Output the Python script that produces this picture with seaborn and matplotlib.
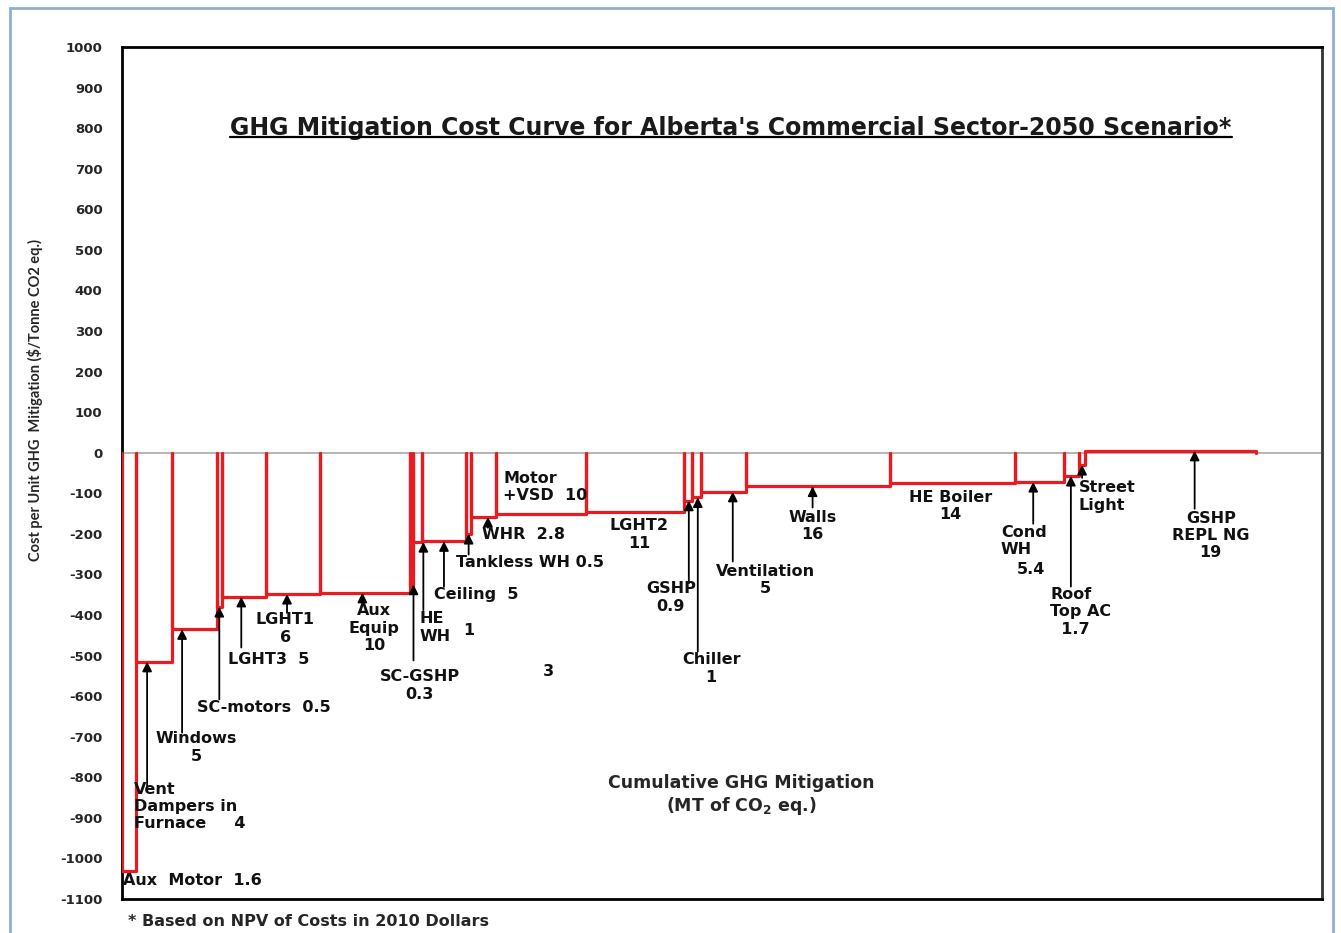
import numpy as np
import pandas as pd
import matplotlib
matplotlib.use("Agg")
import matplotlib.pyplot as plt
from matplotlib.lines import Line2D
from matplotlib.patches import Rectangle
import seaborn as sns

# ---------------- data ----------------
measures = ["Aux Motor", "Vent Dampers in Furnace", "Windows", "SC-motors", "LGHT3",
            "LGHT1", "Aux Equip", "SC-GSHP", "HE WH", "Ceiling", "Tankless WH", "WHR",
            "Motor +VSD", "LGHT2", "GSHP", "Chiller", "Ventilation", "Walls",
            "HE Boiler", "Cond WH", "Roof Top AC", "Street Light", "GSHP REPL NG"]
mitigation = [1.6, 4, 5, 0.5, 5, 6, 10, 0.3, 1, 5, 0.5, 2.8, 10, 11, 0.9, 1, 5, 16,
              14, 5.4, 1.7, 0.7, 19]
cost = [-1030, -515, -435, -380, -355, -348, -345, -325, -220, -218, -200, -158,
        -150, -145, -118, -110, -96, -83, -75, -72, -57, -30, 5]

yticks = list(range(-1100, 1001, 100))

# label annotations: (bar index, text, text x, text y, ha, arrow x, arrow tail y)
labels = [
    (0, "Aux  Motor  1.6", 0.1, -1054, "left", None, None),
    (1, "Vent\nDampers in\nFurnace     4", 1.3, -872, "left", 2.8, -828),
    (2, "Windows\n5", 8.3, -727, "center", 6.7, -690),
    (3, "SC-motors  0.5", 15.8, -628, "center", 10.85, -608),
    (4, "LGHT3  5", 16.4, -510, "center", 13.3, -480),
    (5, "LGHT1\n6", 18.2, -433, "center", 18.4, -395),
    (6, "Aux\nEquip\n10", 28.1, -433, "center", 26.8, -368),
    (7, "SC-GSHP\n0.3", 33.2, -574, "center", 32.5, -512),
    (8, "HE\nWH", 33.2, -431, "left", 33.6, -388),
    (9, "Ceiling  5", 39.5, -350, "center", 35.9, -330),
    (10, "Tankless WH 0.5", 45.5, -271, "center", 38.65, -251),
    (11, "WHR  2.8", 44.8, -202, "center", 40.8, -185),
    (12, "Motor\n+VSD  10", 42.5, -84, "left", None, None),
    (13, "LGHT2\n11", 57.7, -202, "center", None, None),
    (14, "GSHP\n0.9", 61.2, -357, "center", 63.2, -322),
    (15, "Chiller\n1", 65.7, -532, "center", 64.2, -490),
    (16, "Ventilation\n5", 71.7, -313, "center", 68.1, -268),
    (17, "Walls\n16", 77.0, -180, "center", 77.0, -135),
    (18, "HE Boiler\n14", 92.4, -131, "center", None, None),
    (19, "Cond\nWH", 98.0, -217, "left", 101.6, -175),
    (20, "Roof\nTop AC\n  1.7", 103.5, -392, "left", 105.8, -330),
    (21, "Street\nLight", 106.7, -108, "left", 107.05, -62),
    (22, "GSHP\nREPL NG\n19", 121.4, -204, "center", 119.6, -138),
]
extra_texts = [("1", 38.7, -438), ("3", 47.5, -539), ("5.4", 101.4, -288)]

title = "GHG Mitigation Cost Curve for Alberta's Commercial Sector-2050 Scenario*"
xlabel_txt = "Cumulative GHG Mitigation\n(MT of CO$_\\mathregular{2}$ eq.)"
ylabel_txt = "Cost per Unit GHG  Mitigation (\\$/Tonne CO2 eq.)"
footnote = "* Based on NPV of Costs in 2010 Dollars"

# ---------------- style ----------------
sns.set_theme(style="white")
FONT = ["DejaVu Sans"]
plt.rcParams["font.family"] = FONT
plt.rcParams["font.weight"] = "bold"
plt.rcParams["mathtext.fontset"] = "custom"
plt.rcParams["mathtext.rm"] = "DejaVu Sans:bold"
plt.rcParams["mathtext.it"] = "DejaVu Sans:bold"
plt.rcParams["mathtext.bf"] = "DejaVu Sans:bold"

RED = "#ea1b20"

fig = plt.figure(figsize=(13.41, 9.33), dpi=100)
ax = fig.add_axes([122 / 1341, 34 / 933, 1200 / 1341, 852 / 933])

# build outline segments for every step (left edge, bottom, right edge)
starts = np.concatenate([[0], np.cumsum(mitigation)[:-1]])
rows = []
for i, (s, w, c) in enumerate(zip(starts, mitigation, cost)):
    for x, y in [(s, 0), (s, c), (s + w, c), (s + w, 0)]:
        rows.append({"x": x, "y": y, "seg": i})
df = pd.DataFrame(rows)

ax.axhline(0, color="#a8a8a8", lw=1.2, zorder=1)
sns.lineplot(data=df, x="x", y="y", units="seg", estimator=None, sort=False,
             color=RED, lw=2.3, ax=ax, legend=False, zorder=3)

ax.set_xlim(0, 133.8)
ax.set_ylim(-1100, 1000)
ax.set_yticks(yticks)
ax.set_yticklabels([str(t) for t in yticks], fontsize=9.5, fontweight="bold")
ax.set_xticks([])
ax.set_xlabel("")
ax.set_ylabel("")
ax.tick_params(axis="y", direction="out", length=6, width=1.5, color="black", pad=8)
for side, sp in ax.spines.items():
    sp.set_color("black" if side != "right" else "#333333")
    sp.set_linewidth(2)

TXT = dict(fontsize=11.5, fontweight="bold", color="#111111", linespacing=1.2)
for idx, text, tx, ty, ha, axx, tail in labels:
    ax.text(tx, ty, text, ha=ha, va="center",
            multialignment=("left" if ha == "left" else "center"), zorder=5, **TXT)
    if axx is not None:
        ax.annotate("", xy=(axx, cost[idx]), xytext=(axx, tail),
                    arrowprops=dict(arrowstyle="-|>", color="black", lw=1.3,
                                    mutation_scale=14, shrinkA=0, shrinkB=0),
                    zorder=4)
for t, tx, ty in extra_texts:
    ax.text(tx, ty, t, ha="center", va="center", **TXT)

ax.text(69.0, -845, xlabel_txt, ha="center", va="center", fontsize=12.5,
        fontweight="bold", linespacing=1.2)

ttl = ax.text(67.9, 800, title, ha="center", va="center", fontsize=17, fontweight="bold",
              color="#1a1a1a")

fig.text(35 / 1341, 1 - 400 / 933, ylabel_txt, rotation=90, ha="center", va="center",
         fontsize=10.5, fontweight="bold", family=["Lato", "DejaVu Sans"])
fig.text(128 / 1341, 1 - 921 / 933, footnote, ha="left", va="center", fontsize=11.5,
         fontweight="bold")

# outer slide border
fig.patches.append(Rectangle((10 / 1341, -0.02), 1323 / 1341, 1 - 8 / 933 + 0.02,
                             transform=fig.transFigure, fill=False,
                             edgecolor="#8eaed6", lw=2))

# underline title
fig.canvas.draw()
bb = ttl.get_window_extent(renderer=fig.canvas.get_renderer())
inv = fig.transFigure.inverted()
(x0, y0), (x1, y1) = inv.transform([[bb.x0, bb.y0], [bb.x1, bb.y1]])
fig.add_artist(Line2D([x0, x1], [y0 + 0.003, y0 + 0.003], transform=fig.transFigure,
                      color="black", lw=1.6))

fig.savefig("out.png", dpi=100)
